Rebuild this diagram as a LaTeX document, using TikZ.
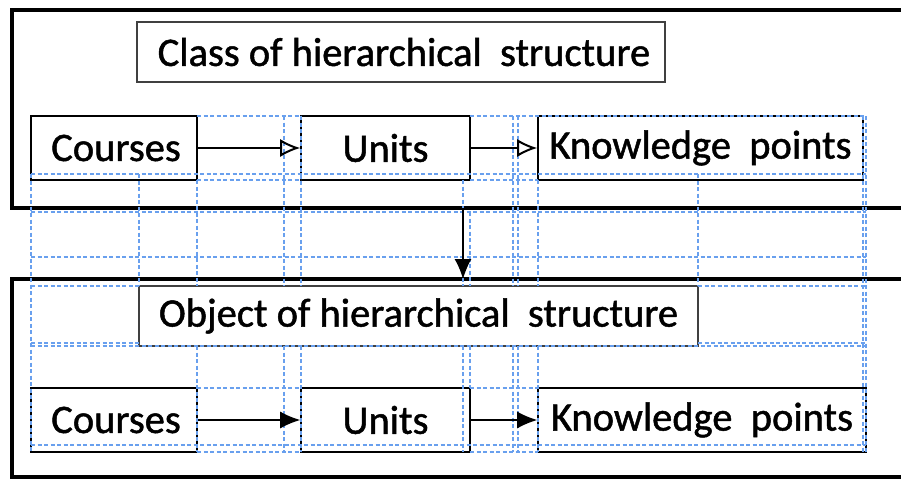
\documentclass[tikz,border=0pt]{standalone}
\usepackage{fontspec}
\setmainfont{Carlito}[FakeBold=1.2]
\usetikzlibrary{arrows.meta}
\definecolor{gridblue}{RGB}{105,160,238}
\tikzset{
  outerbox/.style={line width=4pt,draw=black},
  titlebox/.style={draw=black!75,line width=1.5pt,fill=white,inner sep=0pt,minimum height=60pt,font=\fontsize{40.5}{46}\selectfont},
  itembox/.style={draw=black,line width=1.6pt,fill=white,inner sep=0pt,minimum height=64pt,font=\fontsize{40.5}{46}\selectfont},
  openarrow/.style={line width=1.3pt,-{Latex[open,length=20pt,width=18pt,line width=2pt]}},
  fillarrow/.style={line width=1.3pt,-{Latex[length=20pt,width=17pt]}},
  gridline/.style={gridblue,line width=1.1pt,dash pattern=on 4pt off 2.5pt}
}
\begin{document}
\begin{tikzpicture}[x=1pt,y=-1pt]
\useasboundingbox (0,0) rectangle (901,479);
\clip (0,0) rectangle (901,479);
\fill[white] (0,0) rectangle (901,479);
% outer frames
\draw[outerbox] (12,10) rectangle (920,208);
\draw[outerbox] (12,279) rectangle (920,477);
\coordinate (va) at (463,208);
\coordinate (vb) at (463,279);
% nodes
\node[titlebox,minimum width=528pt] (classtitle) at (401,52) {\hspace{6pt}Class of hierarchical\ \ structure};
\node[itembox,minimum width=166pt] (c1) at (114,148) {\hspace{4pt}Courses};
\node[itembox,minimum width=169pt] (u1) at (385.5,148) {Units};
\node[itembox,minimum width=325pt] (k1) at (700.5,148) {Knowledge\ \ points};
\node[titlebox,minimum width=559pt] (objtitle) at (418.5,316) {Object of hierarchical\ \ structure};
\node[itembox,minimum width=166pt] (c2) at (114,420) {\hspace{4pt}Courses};
\node[itembox,minimum width=169pt] (u2) at (385.5,420) {Units};
\node[itembox,minimum width=328pt] (k2) at (702,420) {Knowledge\ \ points};
% grid
\foreach \ya/\xa/\xb in {116/197/301, 116/470/866, 174/31/866, 180/197/301, 180/470/538,
  212/31/866, 257/31/866, 286/31/139, 286/698/866, 343/31/139, 343/698/866, 346/31/866,
  388/197/301, 388/470/538, 445/31/866, 452/197/301, 452/470/538}
  \draw[gridline] (\xa,\ya) -- (\xb,\ya);
\foreach \xa/\ya/\yb in {31/174/452, 139/174/286, 197/180/286, 197/346/452, 284/116/286, 284/346/452,
  301/116/286, 301/346/452, 463/180/286, 463/346/452, 470/212/286, 470/346/388,
  513/116/286, 513/346/452, 518/116/286, 518/346/452, 538/180/286, 538/346/452,
  698/174/286, 863/116/452, 866/116/452}
  \draw[gridline] (\xa,\ya) -- (\xa,\yb);
% connectors
\draw[openarrow] (c1.east) -- (u1.west);
\draw[openarrow] (u1.east) -- (k1.west);
\draw[fillarrow] (c2.east) -- (u2.west);
\draw[fillarrow] (u2.east) -- (k2.west);
\draw[fillarrow] (va) -- (vb);
\end{tikzpicture}
\end{document}
